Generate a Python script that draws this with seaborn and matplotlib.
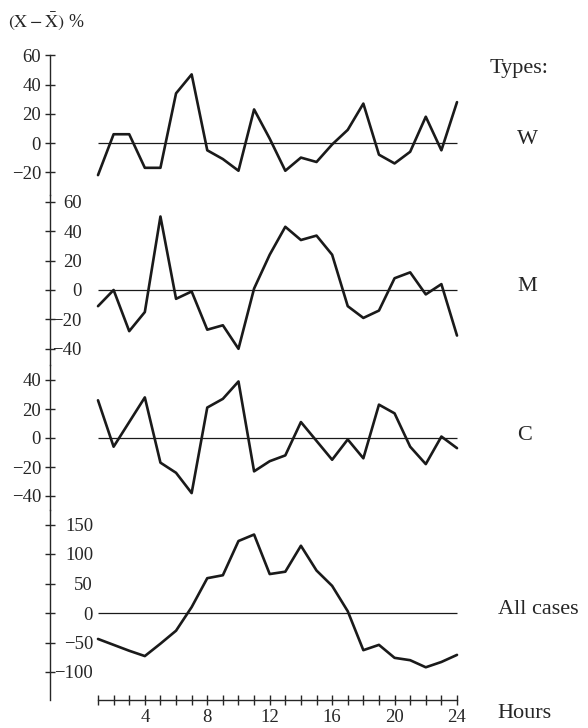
"""
Hourly deviations (X - mean) in percent for three types and all cases.
"""

import matplotlib
matplotlib.use("Agg")
import matplotlib.pyplot as plt
import matplotlib.ticker as mticker
import seaborn as sns
import pandas as pd

hours = list(range(1, 25))
type_w = [-22, 6, 6, -17, -17, 34, 47, -5, -11, -19, 23, 3, -19, -10, -13, -1, 9, 27, -8, -14, -6, 18, -5, 28]
type_m = [-11, 0, -28, -15, 50, -6, -1, -27, -24, -40, 1, 24, 43, 34, 37, 24, -11, -19, -14, 8, 12, -3, 4, -31]
type_c = [26, -6, 11, 28, -17, -24, -38, 21, 27, 39, -23, -16, -12, 11, -2, -15, -1, -14, 23, 17, -6, -18, 1, -7]
all_cases = [-44, -54, -64, -73, -52, -30, 10, 59, 64, 122, 133, 66, 70, 114, 72, 46, 3, -63, -54, -76, -80, -92, -83, -71]

panel_names = ["W", "M", "C", "All cases"]
panel_ticks = [[-20, 0, 20, 40, 60], [-40, -20, 0, 20, 40, 60], [-40, -20, 0, 20, 40], [-100, -50, 0, 50, 100, 150]]
x_ticks = [4, 8, 12, 16, 20, 24]

df = pd.DataFrame({"hour": hours, "W": type_w, "M": type_m, "C": type_c, "All cases": all_cases})

sns.set_style("ticks")
plt.rcParams["font.family"] = ["Liberation Serif", "DejaVu Serif"]
plt.rcParams["mathtext.fontset"] = "stix"

W_PX, H_PX = 588, 728
fig = plt.figure(figsize=(W_PX / 100, H_PX / 100), dpi=100)

# pixel layout of each panel: (top, bottom, zero line, px per unit)
layout = [(50, 195, 143, 1.46), (195, 365, 290, 1.47), (365, 510, 438, 1.45), (510, 700, 613, 0.59)]
# panels M and All cases carry their labels right of the axis line (right-aligned)
right_label_pad = [None, 19.5, None, 27.5]
x_left, x_right = 50, 465
px_per_hour = (457 - 98) / 23

for i, name in enumerate(panel_names):
    top, bottom, zero, scale = layout[i]
    ax = fig.add_axes([x_left / W_PX, 1 - bottom / H_PX, (x_right - x_left) / W_PX, (bottom - top) / H_PX])
    ax.patch.set_alpha(0)
    sns.lineplot(data=df, x="hour", y=name, ax=ax, color="#1a1a1a", linewidth=1.9)
    ax.hlines(0, 1, 24, color="#1a1a1a", linewidth=0.9)

    ax.set_xlim(1 - (98 - x_left) / px_per_hour, 24 + (x_right - 457) / px_per_hour)
    ax.set_ylim((zero - bottom) / scale, (zero - top) / scale)
    ax.set_xlabel("")
    ax.set_ylabel("")
    ax.set_yticks(panel_ticks[i])

    for side in ["top", "right", "left", "bottom"]:
        ax.spines[side].set_visible(False)

    if right_label_pad[i] is not None:
        ax.yaxis.set_ticks_position("right")
        ax.spines["right"].set_visible(True)
        ax.spines["right"].set_position(("axes", 0))
        ax.spines["right"].set_linewidth(1.0)
        ax.tick_params(axis="y", direction="inout", length=7, width=1.0, labelsize=13.5,
                       pad=right_label_pad[i])
        for lab in ax.get_yticklabels():
            lab.set_horizontalalignment("right")
    else:
        ax.yaxis.set_ticks_position("left")
        ax.spines["left"].set_visible(True)
        ax.spines["left"].set_linewidth(1.0)
        ax.tick_params(axis="y", direction="inout", length=7, width=1.0, labelsize=13.5, pad=3)
    if i == 0:
        ax.spines["left"].set_bounds(ax.get_ylim()[0], 60)

    if i == 3:
        ax.spines["bottom"].set_visible(True)
        ax.spines["bottom"].set_bounds(1, 24)
        ax.spines["bottom"].set_linewidth(1.0)
        ax.set_xticks(x_ticks)
        ax.xaxis.set_minor_locator(mticker.FixedLocator(hours))
        ax.tick_params(axis="x", which="both", direction="inout", length=7, width=1.0, labelsize=13.5, pad=3)
    else:
        ax.set_xticks([])

    label_y = 1 - (zero - 3) / H_PX
    fig.text(498 / W_PX if name == "All cases" else 517 / W_PX, label_y, name,
             fontsize=16, ha="left", va="center")

fig.text(490 / W_PX, 1 - 68 / H_PX, "Types:", fontsize=16, ha="left", va="center")
fig.text(497 / W_PX, 1 - 713 / H_PX, "Hours", fontsize=16, ha="left", va="center")
fig.text(8 / W_PX, 1 - 21 / H_PX, r"$(\mathrm{X}-\bar{\mathrm{X}})$ %", fontsize=13, ha="left", va="center")

plt.savefig("out.png", dpi=100)
